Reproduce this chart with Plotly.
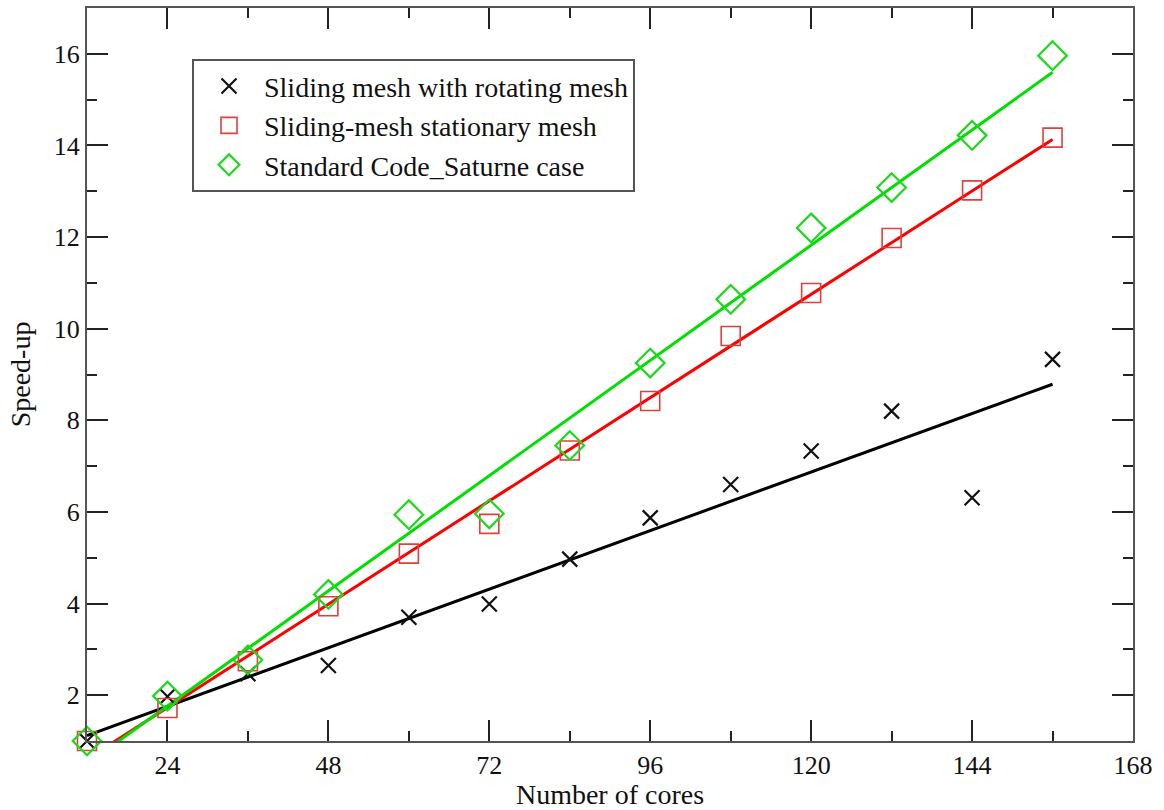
import numpy as np
import plotly.graph_objects as go

# Number of cores used in each run
cores = [12, 24, 36, 48, 60, 72, 84, 96, 108, 120, 132, 144, 156]

# Measured speed-up for each configuration
speedup_rotating = [1.0, 1.97, 2.47, 2.65, 3.70, 3.99, 4.97, 5.87, 6.60, 7.33, 8.20, 6.31, 9.33]
speedup_stationary = [1.0, 1.72, 2.74, 3.94, 5.09, 5.74, 7.34, 8.42, 9.84, 10.78, 11.98, 13.02, 14.17]
speedup_standard = [1.0, 1.98, 2.77, 4.20, 5.94, 5.96, 7.45, 9.25, 10.64, 12.20, 13.08, 14.22, 15.96]

series_names = [
    "Sliding mesh with rotating mesh",
    "Sliding-mesh stationary mesh",
    "Standard Code_Saturne case",
]

x_tickvals = [24, 48, 72, 96, 120, 144, 168]
y_tickvals = [2, 4, 6, 8, 10, 12, 14, 16]

FONT = "Liberation Serif"

series = [
    (series_names[0], speedup_rotating,
     dict(symbol="x-thin-open", size=15, color="#111111", line=dict(color="#111111", width=2.2)), "#000000"),
    (series_names[1], speedup_stationary,
     dict(symbol="square-open", size=19, color="#e0403a", line=dict(color="#e0403a", width=1.6)), "#ff0000"),
    (series_names[2], speedup_standard,
     dict(symbol="diamond-open", size=22, color="#1ed81e", line=dict(color="#1ed81e", width=2.2)), "#00e000"),
]

fig = go.Figure()
x_arr = np.array(cores, dtype=float)

# Least-squares linear fit through each series, drawn across the measured span
for name, values, marker, line_color in series:
    slope, intercept = np.polyfit(x_arr, np.array(values), 1)
    fig.add_trace(go.Scatter(
        x=[x_arr.min(), x_arr.max()],
        y=[slope * x_arr.min() + intercept, slope * x_arr.max() + intercept],
        mode="lines",
        line=dict(color=line_color, width=3),
        showlegend=False,
        hoverinfo="skip",
    ))

for name, values, marker, line_color in series:
    fig.add_trace(go.Scatter(
        x=cores, y=values, mode="markers", name=name,
        marker=marker, cliponaxis=False,
    ))

axis_common = dict(
    showgrid=False, zeroline=False, automargin=False,
    showline=True, linecolor="#555555", linewidth=2,
    mirror="allticks", ticks="inside", ticklen=21, tickwidth=1.5, tickcolor="#222222",
    tickfont=dict(family=FONT, size=26, color="#111111"),
)

fig.update_layout(
    width=1164, height=810,
    margin=dict(l=87, r=31, t=8, b=69),
    paper_bgcolor="white", plot_bgcolor="white",
    font=dict(family=FONT, color="#111111"),
    xaxis=dict(
        axis_common, range=[12, 168], tickvals=x_tickvals,
        minor=dict(dtick=12, tick0=0, ticks="inside", ticklen=10, tickwidth=1.5, tickcolor="#222222"),
        title=dict(text="Number of cores", font=dict(family=FONT, size=28)),
    ),
    yaxis=dict(
        axis_common, range=[1, 17], tickvals=y_tickvals,
        minor=dict(dtick=1, tick0=0, ticks="inside", ticklen=10, tickwidth=1.5, tickcolor="#222222"),
        title=dict(text="Speed-up", font=dict(family=FONT, size=28)),
    ),
    legend=dict(
        x=0.1004, y=0.93, xanchor="left", yanchor="top",
        bgcolor="white", bordercolor="#555555", borderwidth=2,
        font=dict(family=FONT, size=28, color="#111111"),
        itemwidth=60, tracegroupgap=0,
    ),
)

fig.write_html("out.html")
